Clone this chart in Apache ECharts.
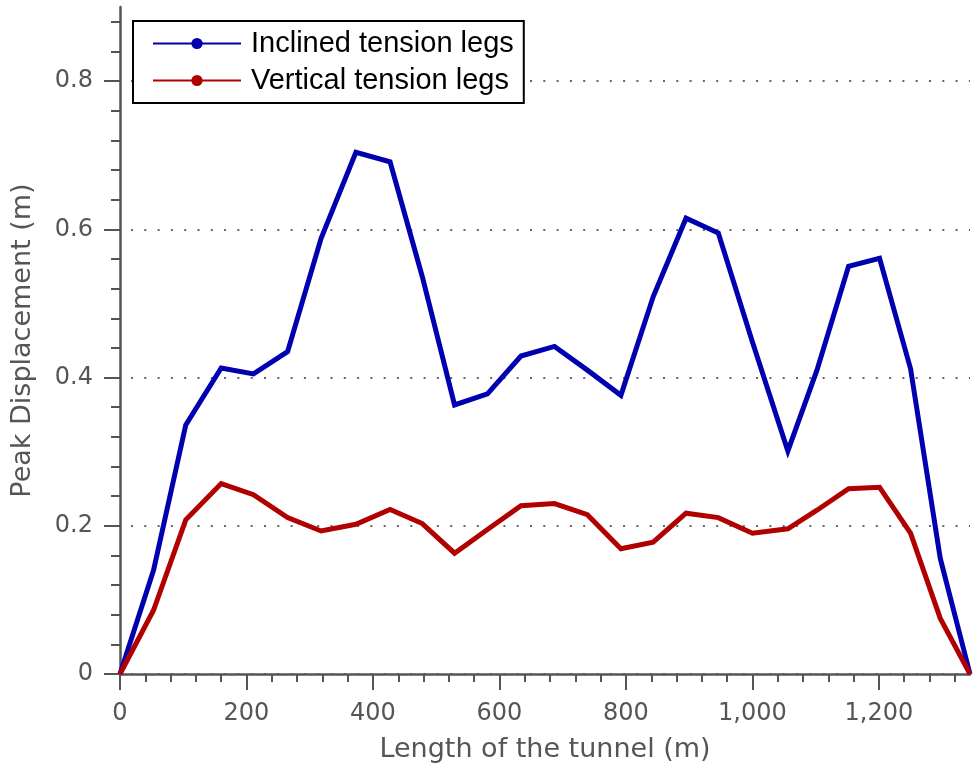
<!DOCTYPE html>
<html>
<head>
<meta charset="utf-8">
<script src="https://cdn.jsdelivr.net/npm/echarts@6/dist/echarts.min.js"></script>
<style>
  html, body { margin: 0; padding: 0; background: #fff; }
  #chart { width: 977px; height: 774px; }
</style>
</head>
<body>
<div id="chart"></div>
<script>
// Positions along the tunnel (m)
const lengths = [0, 53, 104, 160, 211, 265, 318, 373, 427, 478, 529, 581, 634, 687, 739, 792, 843, 895, 946, 1000, 1056, 1102, 1152, 1201, 1250, 1297, 1344];
// Peak displacement (m)
const inclined = [0, 0.140, 0.336, 0.413, 0.405, 0.435, 0.588, 0.704, 0.691, 0.536, 0.363, 0.378, 0.429, 0.442, 0.410, 0.376, 0.509, 0.615, 0.595, 0.448, 0.301, 0.410, 0.550, 0.561, 0.412, 0.156, 0];
const vertical = [0, 0.086, 0.208, 0.257, 0.242, 0.211, 0.193, 0.202, 0.222, 0.203, 0.163, 0.195, 0.227, 0.230, 0.215, 0.169, 0.178, 0.217, 0.211, 0.190, 0.196, 0.221, 0.250, 0.252, 0.190, 0.075, 0];
const seriesNames = ['Inclined tension legs', 'Vertical tension legs'];
// Tick labels
const xTicks = [0, 200, 400, 600, 800, 1000, 1200];
const yTicks = [0, 0.2, 0.4, 0.6, 0.8];
const xMax = 1344, yMax = 0.9;

const xMinor = [];
for (let v = 0; v <= xMax; v += 40) xMinor.push(v);
const yMinor = [];
for (let i = 0; i * 0.04 <= yMax + 1e-9; i++) yMinor.push(+(i * 0.04).toFixed(2));

const axisColor = '#555';
const axisFont = 'DejaVu Sans';

const chart = echarts.init(document.getElementById('chart'), null, { renderer: 'canvas' });
chart.setOption({
  animation: false,
  backgroundColor: '#fff',
  grid: { left: 120, right: 7, top: 7, bottom: 100, containLabel: false, outerBoundsMode: 'none' },
  legend: {
    orient: 'vertical',
    left: 133, top: 21,
    padding: [8, 10, 8, 19],
    itemGap: 8,
    itemWidth: 88, itemHeight: 14,
    backgroundColor: '#fff',
    borderColor: '#000', borderWidth: 2, borderRadius: 0,
    textStyle: { fontFamily: 'Liberation Sans', fontSize: 29, color: '#000', padding: [0, 0, 0, 5] },
    data: seriesNames
  },
  xAxis: [{
    type: 'value', min: 0, max: xMax,
    name: 'Length of the tunnel (m)', nameLocation: 'middle', nameGap: 62,
    nameTextStyle: { fontFamily: axisFont, fontSize: 27, color: axisColor },
    axisLine: { show: true, lineStyle: { color: axisColor, width: 2.5 } },
    axisTick: { show: true, length: 16, lineStyle: { color: axisColor, width: 2 }, customValues: xTicks },
    axisLabel: { margin: 28, fontFamily: axisFont, fontSize: 24, color: axisColor, customValues: xTicks },
    splitLine: { show: false }
  }, {
    type: 'value', min: 0, max: xMax, position: 'bottom',
    axisLine: { show: false },
    axisTick: { show: true, length: 8, lineStyle: { color: axisColor, width: 2 }, customValues: xMinor },
    axisLabel: { show: false },
    splitLine: { show: false }
  }],
  yAxis: [{
    type: 'value', min: 0, max: yMax,
    name: 'Peak Displacement (m)', nameLocation: 'middle', nameGap: 84,
    nameTextStyle: { fontFamily: axisFont, fontSize: 27, color: axisColor },
    axisLine: { show: true, lineStyle: { color: axisColor, width: 2.5 } },
    axisTick: { show: true, length: 16, lineStyle: { color: axisColor, width: 2 }, customValues: yTicks },
    axisLabel: { margin: 27, fontFamily: axisFont, fontSize: 24, color: axisColor, customValues: yTicks,
      formatter: v => (v === 0 ? '0' : String(+v.toFixed(1))) },
    splitLine: { show: true, lineStyle: { color: '#666', width: 2, type: [2, 11.3], dashOffset: -11 } }
  }, {
    type: 'value', min: 0, max: yMax, position: 'left',
    axisLine: { show: false },
    axisTick: { show: true, length: 9, lineStyle: { color: axisColor, width: 2 }, customValues: yMinor },
    axisLabel: { show: false },
    splitLine: { show: false }
  }],
  series: [{
    name: seriesNames[0], type: 'line', xAxisIndex: 0, yAxisIndex: 0,
    data: lengths.map((x, i) => [x, inclined[i]]),
    showSymbol: false, symbol: 'none',
    lineStyle: { color: '#0000b0', width: 5, join: 'miter' },
    itemStyle: { color: '#0000b0' }
  }, {
    name: seriesNames[1], type: 'line', xAxisIndex: 0, yAxisIndex: 0,
    data: lengths.map((x, i) => [x, vertical[i]]),
    showSymbol: false, symbol: 'none',
    lineStyle: { color: '#b00000', width: 5, join: 'miter' },
    itemStyle: { color: '#b00000' }
  }]
});
</script>
</body>
</html>
